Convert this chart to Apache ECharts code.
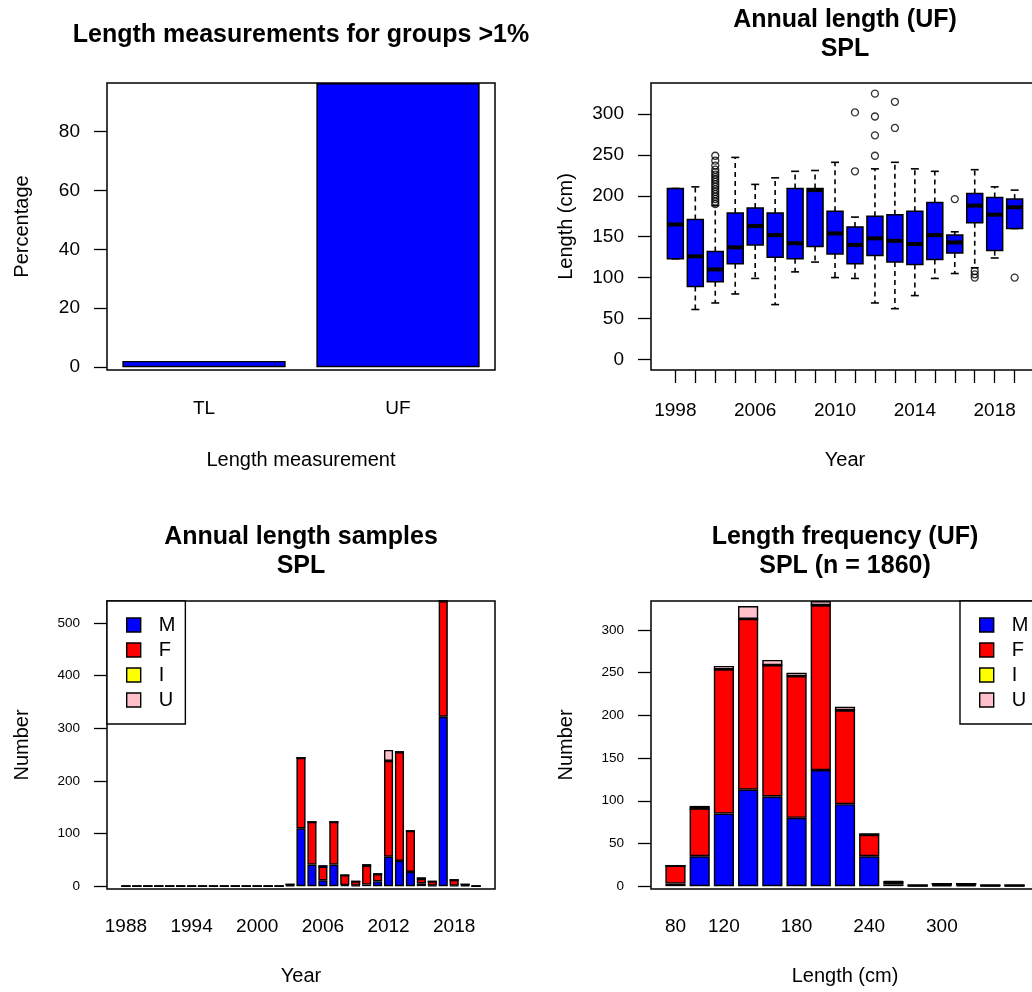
<!DOCTYPE html>
<html><head><meta charset="utf-8">
<script src="https://cdn.jsdelivr.net/npm/echarts@6/dist/echarts.min.js"></script>
<style>html,body{margin:0;padding:0;background:#fff}#c{width:1032px;height:992px}</style>
</head><body><div id="c"></div>
<script>
// ---------- Panel 1: length measurement groups ----------
const measureGroups = ['TL', 'UF'];
const measurePercent = [2.1, 96.5];
const measureTicks = [0, 20, 40, 60, 80];

// ---------- Panel 2: annual length boxplot (UF) ----------
const boxYears = ['1998','2003','2004','2005','2006','2007','2008','2009','2010','2011','2012','2013','2014','2015','2016','2017','2018','2019'];
const boxLow  = [123, 61, 69, 80, 99, 67, 107, 119, 100, 99, 69, 62, 78, 99, 105, 112, 124, 160];
const boxQ1   = [123, 89, 95, 117, 140, 125, 123, 138, 129, 117, 127, 119, 116, 122, 130, 167, 133, 160];
const boxMed  = [165, 126, 110, 137, 163, 152, 142, 207, 154, 140, 148, 145, 141, 152, 143, 188, 177, 186];
const boxQ3   = [209, 171, 132, 179, 185, 179, 209, 209, 181, 162, 175, 177, 181, 192, 152, 203, 198, 196];
const boxHigh = [209, 211, 188, 247, 214, 222, 230, 231, 241, 174, 233, 241, 233, 230, 156, 232, 211, 207];
const outlierYear  = ['2004','2004','2004','2004','2004','2004','2004','2004','2004','2004','2004','2004','2004','2004','2004','2004','2004','2004',
                      '2011','2011','2012','2012','2012','2012','2013','2013','2016','2017','2017','2017','2019'];
const outlierValue = [249, 243, 237, 232, 229, 226, 223, 220, 217, 214, 211, 208, 205, 202, 199, 196, 193, 190,
                      302, 230, 325, 297, 274, 249, 315, 283, 196, 108, 104, 100, 100];
const boxLabelYears = ['1998', '2006', '2010', '2014', '2018'];
const boxTicks = [0, 50, 100, 150, 200, 250, 300];

// ---------- Panel 3: annual length samples by sex ----------
const sampleYears = [1988,1989,1990,1991,1992,1993,1994,1995,1996,1997,1998,1999,2000,2001,2002,2003,2004,2005,2006,2007,2008,2009,2010,2011,2012,2013,2014,2015,2016,2017,2018,2019,2020];
const sampleM = [0,0,0,0,0,0,0,0,0,0,0,0,0,0,0,1,110,41,11,41,2,1,3,9,56,48,27,5,1,322,1,1,0];
const sampleF = [0,0,0,0,0,0,0,0,0,0,0,0,0,0,0,2,134,81,26,81,19,8,36,14,182,207,78,9,8,220,11,2,0];
const sampleI = [0,0,0,0,0,0,0,0,0,0,0,0,0,0,0,0,0,0,0,0,0,0,0,0,0,0,0,0,0,0,0,0,0];
const sampleU = [0,0,0,0,0,0,0,0,0,0,0,0,0,0,0,0,0,0,3,0,0,0,3,0,21,0,0,3,0,0,0,0,0];
const sampleYearLabels = [1988, 1994, 2000, 2006, 2012, 2018];
const sampleTicks = [0, 100, 200, 300, 400, 500];

// ---------- Panel 4: length frequency by sex ----------
const lengthBins = [80,100,120,140,160,180,200,220,240,260,280,300,320,340,360];
const freqM = [3, 35, 85, 113, 105, 80, 136, 96, 35, 2, 0, 1, 1, 0, 0];
const freqF = [21, 56, 169, 200, 154, 166, 193, 110, 25, 3, 1, 2, 2, 1, 1];
const freqI = [0, 0, 0, 0, 0, 0, 0, 0, 0, 0, 0, 0, 0, 0, 0];
const freqU = [0, 3, 4, 15, 6, 4, 5, 4, 2, 1, 0, 0, 0, 0, 0];
const lengthLabels = [80, 120, 180, 240, 300];
const freqTicks = [0, 50, 100, 150, 200, 250, 300];

const sexNames = ['M', 'F', 'I', 'U'];
const sexColors = ['#0000FF', '#FF0000', '#FFFF00', '#FFC0CB'];

// ---------- layout helpers (mimic R barplot / boxplot axis ranges) ----------
const FONT = 'Liberation Sans';
const GW = 388;
const grids = [
  {left: 107, top: 83, width: GW, height: 287},
  {left: 651, top: 83, width: GW, height: 287},
  {left: 107, top: 601, width: GW, height: 288},
  {left: 651, top: 601, width: GW, height: 288}
];
function rBarRange(values) {
  const n = values.length, step = values[1] - values[0];
  const uMin = 0.2, uMax = 1.2 * n, ext = 0.04 * (uMax - uMin);
  const toVal = u => values[0] + step * (u - 0.7) / 1.2;
  const min = toVal(uMin - ext), max = toVal(uMax + ext);
  return {min, max, barPx: GW * (step / 1.2) / (max - min)};
}
function totals(arrs) { return arrs[0].map((_, i) => arrs.reduce((s, a) => s + a[i], 0)); }

const pctMax = Math.max(...measurePercent);
const pctBarPx = GW / (1.2 * measureGroups.length - 0.2) / 1.08;
const boxMax = Math.max(...boxHigh, ...outlierValue);
const boxN = boxYears.length;
const sRange = rBarRange(sampleYears);
const sMax = Math.max(...totals([sampleM, sampleF, sampleI, sampleU]));
const fRange = rBarRange(lengthBins);
const fMax = Math.max(...totals([freqM, freqF, freqI, freqU]));

const black = '#000';
const LW = 1.4;
const tickStyle = {lineStyle: {color: black, width: 1.3}};
function yAxisBase(gridIndex, min, max, ticks, name, fs) {
  return {
    type: 'value', gridIndex, min, max, name, nameLocation: 'middle', nameGap: 75,
    nameTextStyle: {fontSize: 20, color: black, fontFamily: FONT},
    axisLine: {show: false, onZero: false},
    axisTick: {show: true, length: 13, customValues: ticks, ...tickStyle},
    axisLabel: {customValues: ticks, margin: 27, fontSize: fs, color: black, fontFamily: FONT},
    splitLine: {show: false}
  };
}

const boxData = boxYears.map((y, i) => [i + 1, boxLow[i], boxQ1[i], boxMed[i], boxQ3[i], boxHigh[i]]);
const outlierData = outlierYear.map((y, i) => [boxYears.indexOf(y) + 1, outlierValue[i]]);

// value first so that the stack is computed on the y (count) dimension
function stackedSeries(xs, arrs, axisIdx, stack, barPx) {
  return arrs.map((a, k) => ({
    type: 'bar', name: sexNames[k], stack, xAxisIndex: axisIdx, yAxisIndex: axisIdx,
    barWidth: barPx, data: xs.map((x, i) => [a[i], x]), encode: {x: 1, y: 0},
    itemStyle: {color: sexColors[k], borderColor: black, borderWidth: LW}
  }));
}
function legendAt(left) {
  return {
    data: sexNames, orient: 'vertical', left, top: 601, selectedMode: false,
    icon: 'rect', itemWidth: 14, itemHeight: 14, itemGap: 5,
    padding: [14, 10, 14, 19], borderColor: black, borderWidth: LW, backgroundColor: '#fff',
    itemStyle: {borderColor: black, borderWidth: LW},
    textStyle: {fontSize: 20, lineHeight: 20, color: black, fontFamily: FONT, padding: [0, 0, 0, 13]}
  };
}
const titleStyle = {fontSize: 25, fontWeight: 'bold', lineHeight: 29, color: black, fontFamily: FONT};

const option = {
  animation: false,
  backgroundColor: '#fff',
  textStyle: {fontFamily: FONT},
  title: [
    {text: 'Length measurements for groups >1%', left: 301, top: 35},
    {text: 'Annual length (UF)\nSPL', left: 845, top: 35},
    {text: 'Annual length samples\nSPL', left: 301, top: 552},
    {text: 'Length frequency (UF)\nSPL (n = 1860)', left: 845, top: 552}
  ].map(t => ({...t, padding: 0, textAlign: 'center', textVerticalAlign: 'middle', textStyle: titleStyle})),
  grid: grids.map(g => ({...g, show: true, borderColor: black, borderWidth: 1.5, backgroundColor: 'transparent', containLabel: false, outerBoundsMode: 'none'})),
  legend: [legendAt(107), legendAt(960)],
  xAxis: [
    {type: 'category', gridIndex: 0, data: measureGroups, name: 'Length measurement', nameLocation: 'middle', nameGap: 80,
     nameTextStyle: {fontSize: 20, color: black, fontFamily: FONT},
     axisLine: {show: false, onZero: false}, axisTick: {show: false},
     axisLabel: {margin: 29, fontSize: 19, color: black, fontFamily: FONT}},
    {type: 'value', gridIndex: 1, min: 0.5 - 0.04 * boxN, max: boxN + 0.5 + 0.04 * boxN,
     name: 'Year', nameLocation: 'middle', nameGap: 80,
     nameTextStyle: {fontSize: 20, color: black, fontFamily: FONT},
     axisLine: {show: false, onZero: false},
     axisTick: {show: true, length: 13, customValues: boxYears.map((y, i) => i + 1), ...tickStyle},
     axisLabel: {customValues: boxLabelYears.map(y => boxYears.indexOf(y) + 1), margin: 31, fontSize: 19, color: black, fontFamily: FONT,
                 formatter: v => boxYears[Math.round(v) - 1]},
     splitLine: {show: false}},
    {type: 'value', gridIndex: 2, min: sRange.min, max: sRange.max,
     name: 'Year', nameLocation: 'middle', nameGap: 77,
     nameTextStyle: {fontSize: 20, color: black, fontFamily: FONT},
     axisLine: {show: false, onZero: false}, axisTick: {show: false},
     axisLabel: {customValues: sampleYearLabels, margin: 28, fontSize: 19, color: black, fontFamily: FONT, formatter: v => String(v)},
     splitLine: {show: false}},
    {type: 'value', gridIndex: 3, min: fRange.min, max: fRange.max,
     name: 'Length (cm)', nameLocation: 'middle', nameGap: 77,
     nameTextStyle: {fontSize: 20, color: black, fontFamily: FONT},
     axisLine: {show: false, onZero: false}, axisTick: {show: false},
     axisLabel: {customValues: lengthLabels, margin: 28, fontSize: 19, color: black, fontFamily: FONT, formatter: v => String(v)},
     splitLine: {show: false}}
  ],
  yAxis: [
    yAxisBase(0, -0.01 * pctMax, pctMax, measureTicks, 'Percentage', 19),
    yAxisBase(1, -0.04 * boxMax, boxMax * 1.04, boxTicks, 'Length (cm)', 19),
    yAxisBase(2, -0.01 * sMax, sMax, sampleTicks, 'Number', 13.5),
    yAxisBase(3, -0.01 * fMax, fMax, freqTicks, 'Number', 13.5)
  ],
  series: [
    {type: 'bar', xAxisIndex: 0, yAxisIndex: 0, data: measurePercent, barWidth: pctBarPx,
     itemStyle: {color: '#0000FF', borderColor: black, borderWidth: LW}},
    {type: 'custom', xAxisIndex: 1, yAxisIndex: 1, data: boxData, encode: {x: 0, y: [1, 2, 3, 4, 5]},
     renderItem: function (params, api) {
       const x = api.value(0);
       const lo = api.coord([x, api.value(1)]);
       const q1 = api.coord([x, api.value(2)]);
       const md = api.coord([x, api.value(3)]);
       const q3 = api.coord([x, api.value(4)]);
       const hi = api.coord([x, api.value(5)]);
       const w = api.size([0.8, 0])[0];
       const cx = md[0];
       const solid = {stroke: black, lineWidth: 1.6};
       const dash = {stroke: black, lineWidth: 1.6, lineDash: [5, 4]};
       return {type: 'group', children: [
         {type: 'line', shape: {x1: cx, y1: q3[1], x2: cx, y2: hi[1]}, style: dash},
         {type: 'line', shape: {x1: cx, y1: q1[1], x2: cx, y2: lo[1]}, style: dash},
         {type: 'line', shape: {x1: cx - w / 4, y1: hi[1], x2: cx + w / 4, y2: hi[1]}, style: solid},
         {type: 'line', shape: {x1: cx - w / 4, y1: lo[1], x2: cx + w / 4, y2: lo[1]}, style: solid},
         {type: 'rect', shape: {x: cx - w / 2, y: q3[1], width: w, height: q1[1] - q3[1]},
          style: {fill: '#0000FF', stroke: black, lineWidth: 1.5}},
         {type: 'line', shape: {x1: cx - w / 2, y1: md[1], x2: cx + w / 2, y2: md[1]}, style: {stroke: black, lineWidth: 4}}
       ]};
     }},
    {type: 'scatter', xAxisIndex: 1, yAxisIndex: 1, data: outlierData, symbol: 'circle', symbolSize: 7,
     itemStyle: {color: 'rgba(0,0,0,0)', borderColor: black, borderWidth: 1.3}},
    ...stackedSeries(sampleYears, [sampleM, sampleF, sampleI, sampleU], 2, 'samples', sRange.barPx),
    ...stackedSeries(lengthBins, [freqM, freqF, freqI, freqU], 3, 'freq', fRange.barPx)
  ]
};
const chart = echarts.init(document.getElementById('c'), null, {renderer: 'canvas'});
chart.setOption(option);
</script>
</body></html>
